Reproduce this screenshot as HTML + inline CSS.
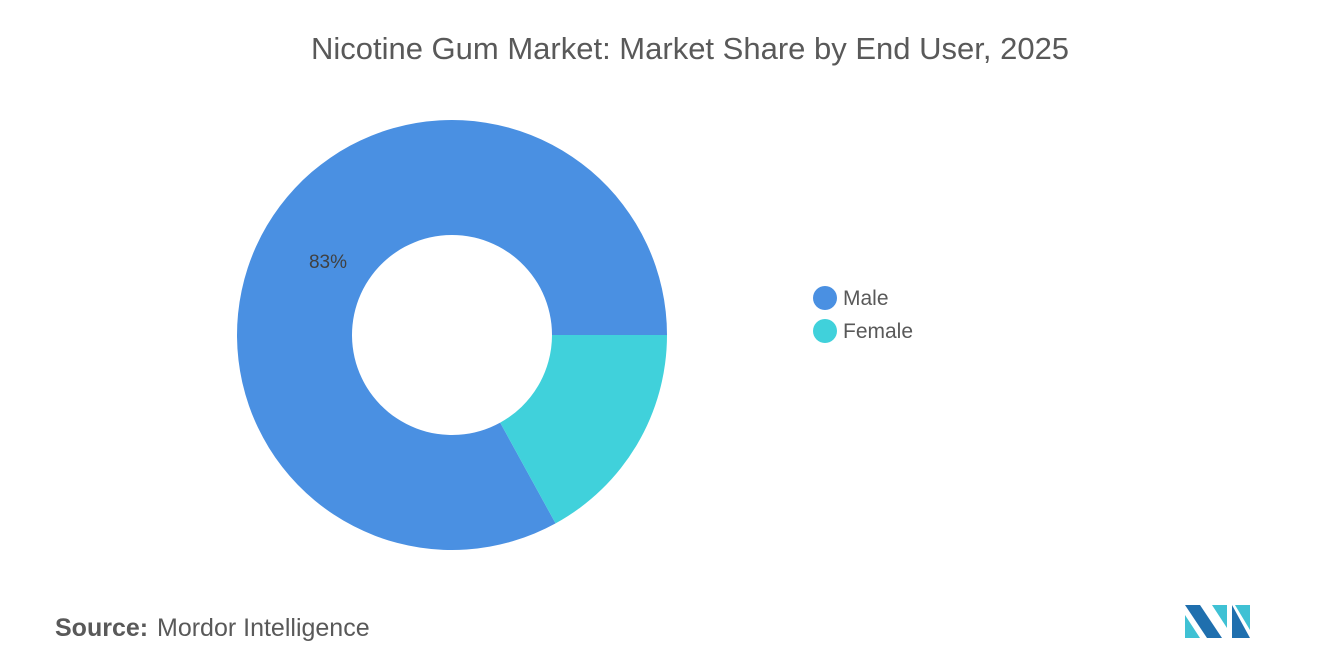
<!DOCTYPE html>
<html><head><meta charset="utf-8"><style>
body{margin:0;width:1320px;height:665px;background:#fff;font-family:"Liberation Sans",sans-serif;overflow:hidden}
</style></head><body>
<svg width="1320" height="665">
<text x="690" y="59" text-anchor="middle" font-size="31" fill="#595959">Nicotine Gum Market: Market Share by End User, 2025</text>
<g id="donut"></g>
<g>
<g><circle cx="825" cy="298" r="12" fill="#4a90e2"/><text x="843" y="305" font-size="21" fill="#595959">Male</text></g>
<g><circle cx="825" cy="331" r="12" fill="#40d1db"/><text x="843" y="338" font-size="21" fill="#595959">Female</text></g>
</g>
<text x="55" y="636" font-size="25" fill="#595959"><tspan font-weight="bold">Source:</tspan><tspan x="157">Mordor Intelligence</tspan></text>
<g>
<polygon points="1185,605 1200,605 1222,638 1207,638" fill="#1f6fae"/>
<polygon points="1185,615 1200,638 1185,638" fill="#3fc1d4"/>
<polygon points="1212,605 1227,605 1227,628" fill="#3fc1d4"/>
<polygon points="1232,605 1250,638 1232,638" fill="#1f6fae"/>
<polygon points="1235,605 1250,605 1250,630" fill="#3fc1d4"/>
</g>
</svg>
<script>
const categories=["Male","Female"];
const values=[83,17];
const colors=["#4a90e2","#40d1db"];
const cx=452,cy=335,R=215,r=100;
const g=document.getElementById('donut');
const ns="http://www.w3.org/2000/svg";
const total=values.reduce((a,b)=>a+b,0);
let start=-values[0]/total*2*Math.PI;
function pt(a,rad){return [cx+rad*Math.cos(a),cy+rad*Math.sin(a)];}
values.forEach((v,i)=>{
 const a0=start,a1=start+v/total*2*Math.PI;start=a1;
 const large=(a1-a0)>Math.PI?1:0;
 const [x0,y0]=pt(a0,R),[x1,y1]=pt(a1,R),[x2,y2]=pt(a1,r),[x3,y3]=pt(a0,r);
 const p=document.createElementNS(ns,'path');
 p.setAttribute('d',`M${x0},${y0}A${R},${R} 0 ${large} 1 ${x1},${y1}L${x2},${y2}A${r},${r} 0 ${large} 0 ${x3},${y3}Z`);
 p.setAttribute('fill',colors[i]);
 
 
 g.appendChild(p);
});
const lbl=document.createElementNS(ns,'text');
lbl.setAttribute('x',328);lbl.setAttribute('y',268);
lbl.setAttribute('text-anchor','middle');lbl.setAttribute('font-size','19');lbl.setAttribute('fill','#404040');
lbl.textContent=values[0]+'%';


g.appendChild(lbl);
</script>
</body></html>
